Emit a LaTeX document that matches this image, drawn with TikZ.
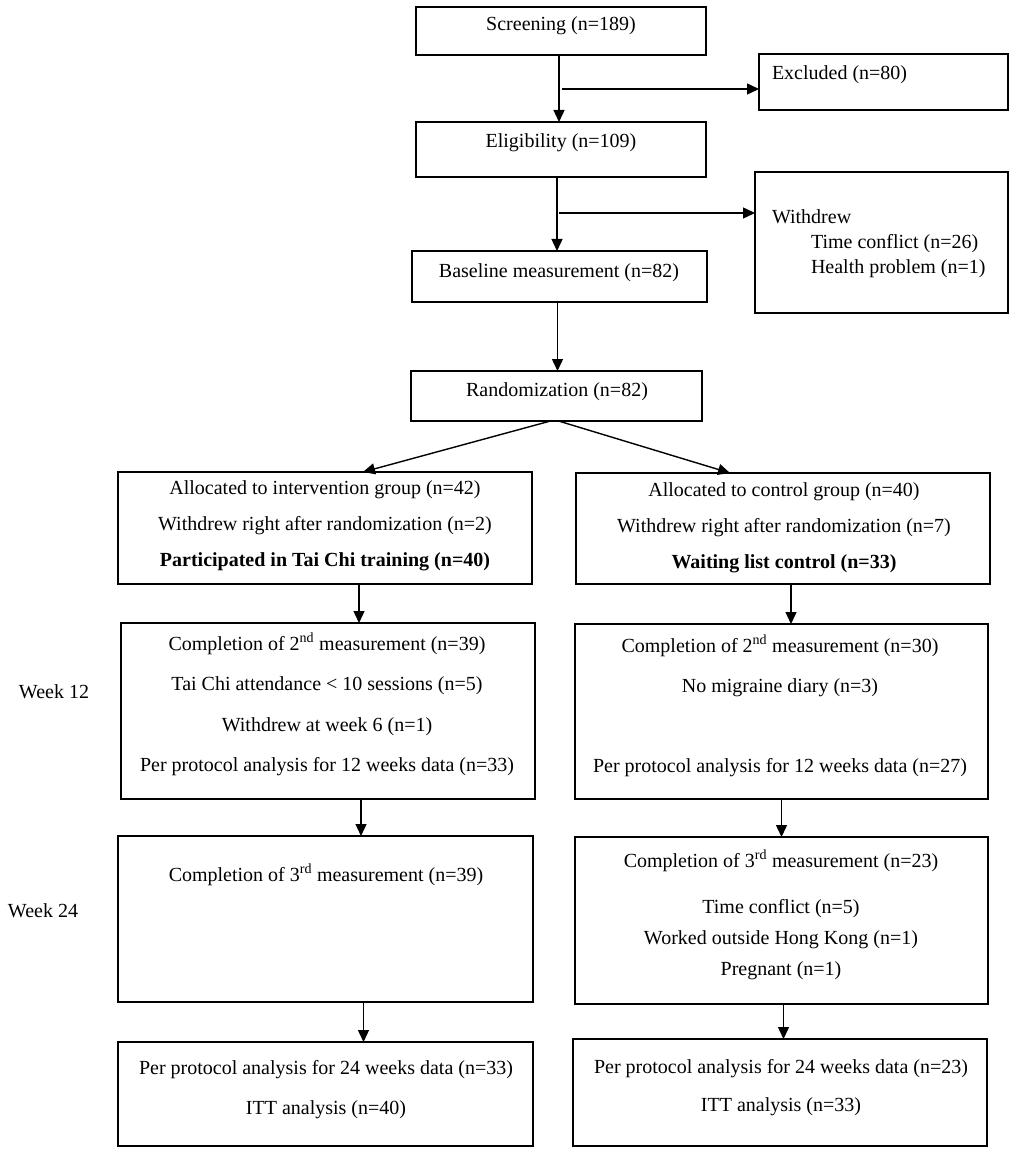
\documentclass[tikz,border=0pt]{standalone}
\usepackage{fontspec}
\setmainfont{Liberation Serif}
\usetikzlibrary{arrows.meta}
\tikzset{
  bx/.style={draw, line width=1.8pt, inner sep=0pt, outer sep=0pt, rectangle},
  tx/.style={inner sep=0pt, outer sep=0pt, text height=14pt, text depth=4pt, font=\fontsize{20}{24}\selectfont},
  arr/.style={line width=1.4pt, -{Triangle[length=12pt,width=11pt]}}
}
\newcommand\mybox[5]{\node[bx, minimum width={(#4-#2)*1pt}, minimum height={(#5-#3)*1pt}] (#1) at ({(#2+#4)/2},{(#3+#5)/2}) {};}
\begin{document}
\begin{tikzpicture}[x=1pt,y=-1pt]
\useasboundingbox (0,0) rectangle (1013,1158);
% boxes
\mybox{scr}{416}{7}{706}{55}
\mybox{exc}{759}{54}{1008}{110}
\mybox{eli}{416}{122}{706}{177}
\mybox{wd}{755}{172}{1008}{313}
\mybox{base}{412}{251}{707}{302}
\mybox{rand}{411}{371}{702}{421}
\mybox{la}{118}{472}{532}{584}
\mybox{ra}{576}{473}{990}{584}
\mybox{ltwo}{121}{623}{535}{799}
\mybox{rtwo}{575}{624}{988}{799}
\mybox{lthree}{118}{836}{533}{1002}
\mybox{rthree}{575}{837}{988}{1004}
\mybox{lfour}{118}{1042}{533}{1146}
\mybox{rfour}{573}{1039}{987}{1146}
% texts
\node[tx] (scrT) at (561,26) {Screening (n=189)};
\node[tx, anchor=west] (excT) at (772,75) {Excluded (n=80)};
\node[tx] (eliT) at (561,143) {Eligibility (n=109)};
\node[tx, anchor=west] (wdA) at (772,219) {Withdrew};
\node[tx, anchor=west] (wdB) at (811,243) {Time conflict (n=26)};
\node[tx, anchor=west] (wdC) at (811,268) {Health problem (n=1)};
\node[tx] (baseT) at (559,272) {Baseline measurement (n=82)};
\node[tx] (randT) at (557,391) {Randomization (n=82)};
\node[tx] (laA) at (325,489) {Allocated to intervention group (n=42)};
\node[tx] (laB) at (325,525) {Withdrew right after randomization (n=2)};
\node[tx] (laC) at (325,561) {\bfseries Participated in Tai Chi training (n=40)};
\node[tx] (raA) at (784,491) {Allocated to control group (n=40)};
\node[tx] (raB) at (784,527) {Withdrew right after randomization (n=7)};
\node[tx] (raC) at (784,563) {\bfseries Waiting list control (n=33)};
\node[tx] (wk12) at (54,693) {Week 12};
\node[tx] (ltA) at (327,645) {Completion of 2\textsuperscript{nd} measurement (n=39)};
\node[tx] (ltB) at (327,685) {Tai Chi attendance < 10 sessions (n=5)};
\node[tx] (ltC) at (327,726) {Withdrew at week 6 (n=1)};
\node[tx] (ltD) at (327,766) {Per protocol analysis for 12 weeks data (n=33)};
\node[tx] (rtA) at (780,647) {Completion of 2\textsuperscript{nd} measurement (n=30)};
\node[tx] (rtB) at (780,687) {No migraine diary (n=3)};
\node[tx] (rtD) at (780,767) {Per protocol analysis for 12 weeks data (n=27)};
\node[tx] (wk24) at (43,912) {Week 24};
\node[tx] (lhA) at (326,876) {Completion of 3\textsuperscript{rd} measurement (n=39)};
\node[tx] (rhA) at (781,862) {Completion of 3\textsuperscript{rd} measurement (n=23)};
\node[tx] (rhB) at (781,908) {Time conflict (n=5)};
\node[tx] (rhC) at (781,939) {Worked outside Hong Kong (n=1)};
\node[tx] (rhD) at (781,970) {Pregnant (n=1)};
\node[tx] (lfA) at (326,1069) {Per protocol analysis for 24 weeks data (n=33)};
\node[tx] (lfB) at (326,1109) {ITT analysis (n=40)};
\node[tx] (rfA) at (781,1068) {Per protocol analysis for 24 weeks data (n=23)};
\node[tx] (rfB) at (781,1106) {ITT analysis (n=33)};
% connectors
\draw[arr] ([xshift=-2pt]scr.south) -- ([xshift=-2pt]scr.south |- eli.north);
\coordinate (sa) at (562,89);
\draw[arr] (sa) -- (sa -| exc.west);
\draw[arr] ([xshift=-4pt]eli.south) -- ([xshift=-4pt]eli.south |- base.north);
\coordinate (sb) at (559,213);
\draw[arr] (sb) -- (sb -| wd.west);
\draw[arr] ([xshift=-2pt]base.south) -- ([xshift=-2pt]base.south |- rand.north);
\draw[arr] ([xshift=-6pt]rand.south) -- ([xshift=38pt]la.north);
\draw[arr] ([xshift=2pt]rand.south) -- ([xshift=-53pt]ra.north);
\draw[arr] ([xshift=34pt]la.south) -- ([xshift=34pt]la.south |- ltwo.north);
\draw[arr] ([xshift=8pt]ra.south) -- ([xshift=8pt]ra.south |- rtwo.north);
\draw[arr] ([xshift=33pt]ltwo.south) -- ([xshift=33pt]ltwo.south |- lthree.north);
\draw[arr] (rtwo.south) -- (rtwo.south |- rthree.north);
\draw[arr] ([xshift=38pt]lthree.south) -- ([xshift=38pt]lthree.south |- lfour.north);
\draw[arr] ([xshift=2pt]rthree.south) -- ([xshift=2pt]rthree.south |- rfour.north);
\end{tikzpicture}
\end{document}
